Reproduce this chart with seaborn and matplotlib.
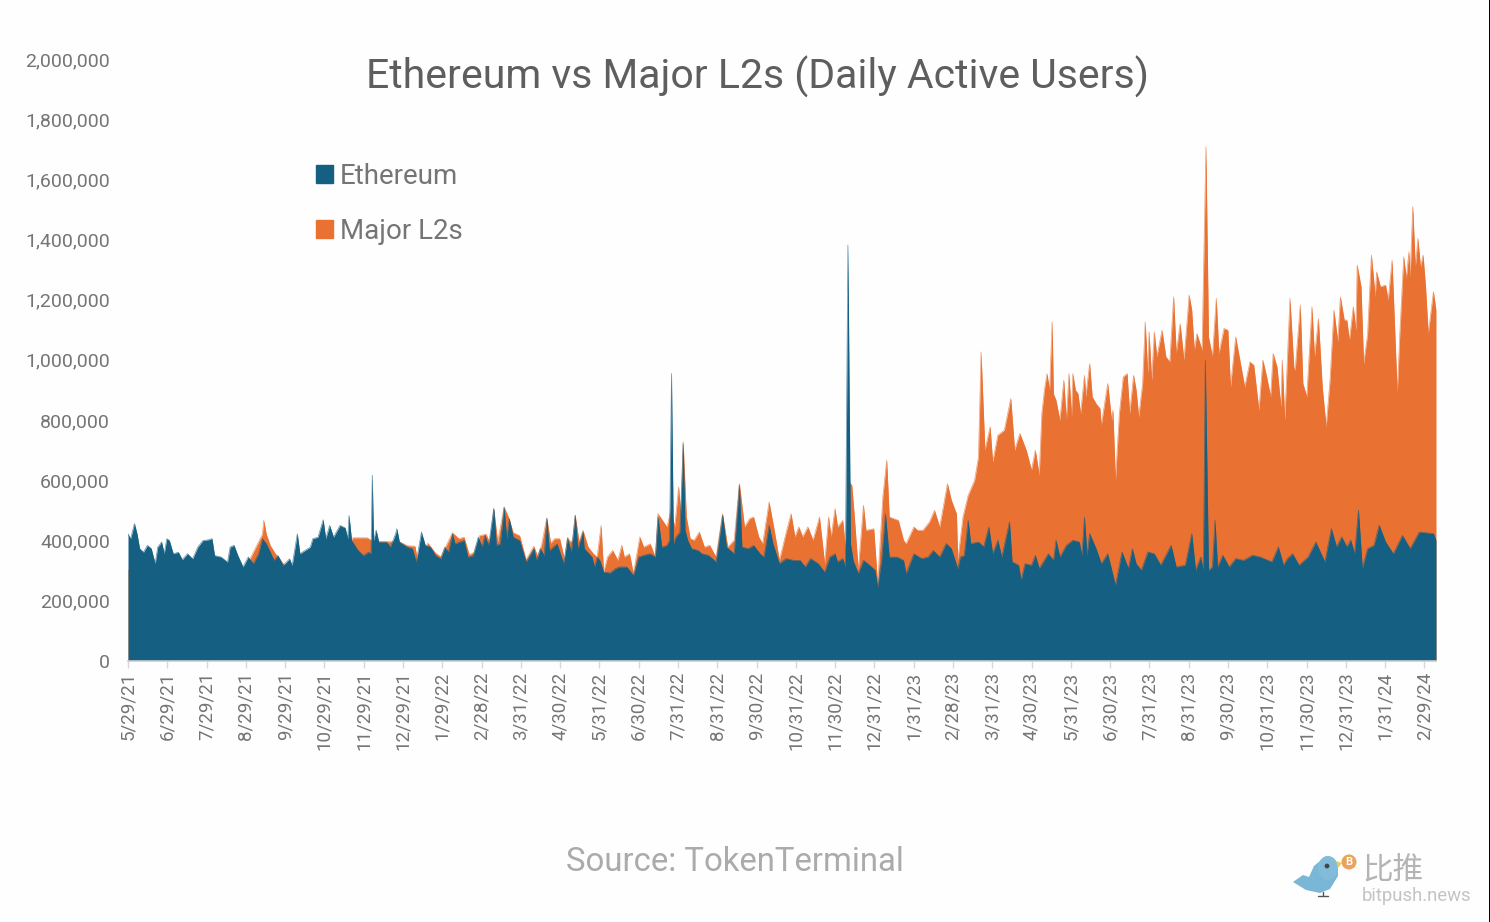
import numpy as np
import matplotlib
matplotlib.use("Agg")
import matplotlib.pyplot as plt
import seaborn as sns
from matplotlib.patches import Patch, Ellipse, Polygon, Circle

# Values: position along the date axis, users in thousands
ETH_DAYS = [0, 2, 5, 7, 9, 12, 15, 18, 21, 23, 26, 28, 30, 32, 35, 39, 42, 46, 50, 54, 58, 62, 65, 67, 72, 77, 79, 82, 85, 89,
            93, 97, 101, 104, 107, 113, 116, 120, 125, 127, 131, 133, 137, 141, 143, 147, 151, 153, 156, 159, 164, 168, 170, 171,
            173, 178, 182, 186, 188, 189, 190, 192, 194, 200, 203, 207, 208, 210, 216, 220, 223, 227, 230, 234, 238, 242, 245,
            248, 251, 253, 260, 263, 267, 271, 274, 276, 279, 283, 285, 288, 291, 293, 295, 298, 303, 308, 314, 316, 319, 322,
            324, 326, 332, 337, 340, 343, 346, 348, 352, 353, 359, 361, 363, 365, 368, 373, 377, 380, 386, 391, 395, 399, 404,
            408, 410, 413, 417, 419, 420.5, 422, 424, 427, 429.5, 431, 433, 436, 441, 444, 449, 455, 460, 463, 469, 473, 475,
            480, 484, 489, 492, 496, 499, 504, 509, 515, 520, 524, 528, 534, 539, 543, 547, 549, 553, 555, 557, 559, 561, 565,
            569, 574, 578, 580, 583, 586, 589, 595, 600, 602, 608, 614, 619, 623, 628, 633, 637, 642, 644, 647, 650, 652, 658,
            662, 666, 669, 673, 676, 682, 684, 689, 691, 694, 699, 702, 705, 712, 716, 718, 721, 726, 731, 736, 738, 740, 742,
            744, 749, 753, 758, 764, 769, 774, 777, 780, 784, 789, 794, 799, 807, 811, 818, 823, 826, 830, 832, 833.5, 836, 839,
            841, 843, 847, 852, 857, 863, 870, 876, 885, 890, 894, 897, 901, 906, 913, 919, 926, 931, 935, 939, 943, 946, 949,
            952, 955, 959, 964, 968, 973, 979, 986, 992, 999, 1010, 1012]
ETH_USERS = [421, 405, 455, 421, 372, 360, 383, 372, 322, 377, 394, 355, 405, 399, 355, 360, 335, 355, 338, 377, 399, 401, 405, 349, 344, 327, 377, 383, 349, 311,
             344, 322, 355, 405, 388, 333, 349, 316, 338, 316, 421, 355, 366, 377, 405, 410, 468, 405, 449, 410, 449, 441, 405, 482,
             399, 366, 349, 360, 355, 616, 399, 433, 394, 394, 377, 421, 438, 394, 377, 372, 327, 427, 383, 377, 349, 338, 377,
             360, 421, 388, 399, 344, 349, 410, 377, 416, 383, 505, 383, 388, 510, 405, 471, 410, 399, 327, 372, 333, 372, 349,
             471, 366, 388, 322, 405, 361, 483, 372, 427, 372, 344, 311, 344, 333, 294, 291, 305, 311, 311, 283, 344, 350, 355,
             344, 477, 377, 383, 400, 954, 388, 411, 427, 721, 433, 400, 372, 366, 355, 350, 328, 483, 377, 355, 583, 377,
             372, 383, 355, 344, 449, 388, 322, 339, 333, 333, 311, 339, 322, 294, 344, 355, 328, 339, 311, 1381, 388, 333, 289,
             333, 316, 300, 244, 333, 488, 344, 344, 333, 289, 355, 339, 344, 366, 344, 389, 372, 305, 344, 350, 466, 389, 394,
             378, 444, 355, 400, 344, 461, 328, 317, 267, 322, 317, 350, 306, 355, 333, 400, 344, 383, 400, 394, 350, 477, 350,
             422, 372, 322, 355, 250, 361, 306, 372, 322, 300, 361, 355, 317, 383, 311, 317, 422, 300, 344, 300, 999, 300, 311,
             466, 311, 350, 311, 339, 333, 350, 344, 328, 378, 317, 339, 355, 317, 344, 394, 328, 439, 378, 411, 378, 400, 355,
             500, 306, 372, 383, 450, 394, 355, 416, 372, 427, 422, 400]

L2_DAYS = [0, 30, 60, 90, 104, 105, 107, 110, 114, 117, 120, 125, 127, 140, 150, 170, 174, 180, 185, 190, 200, 210, 216, 222, 224, 232,
           238, 242, 246, 251, 256, 260, 264, 268, 272, 277, 280, 283, 286, 291, 295, 298, 303, 308, 314, 317, 320, 324, 327, 330,
           334, 338, 340, 342, 344, 346, 349, 352, 356, 360, 363, 366, 368, 371, 375, 379, 382, 384, 388, 391, 396, 399, 404, 408,
           410, 417, 420, 423, 426, 428, 429.5, 432, 435, 438, 442, 446, 450, 455, 460, 464, 469, 473, 477, 481, 484, 488, 491, 496,
           500, 504, 509, 513, 516, 519, 522, 526, 530, 535, 539, 542, 544, 547, 549, 553, 556, 557, 560, 562, 565, 569, 571, 577,
           580, 584, 587, 589, 596, 600, 602, 608, 611, 615, 620, 624, 628, 634, 637, 641, 642, 646, 650, 655, 658, 660, 663, 667,
           669, 673, 678, 683, 686, 690, 695, 699, 702, 705,
           707, 709, 711, 713, 715, 716, 718, 721, 724, 726, 728, 730, 731, 733, 735, 737, 740, 741, 744, 746, 749, 752, 753, 758,
           761, 762, 764, 767, 770, 773, 775, 778, 780, 782, 785, 787, 789, 790, 792, 794, 796, 800, 803, 806, 809, 811, 814, 817,
           821, 823, 825, 827, 831, 834, 836, 839, 842, 844, 848, 851, 853, 857, 860, 864, 868, 871, 875, 878, 881, 884, 886, 889,
           892, 893, 895, 899, 902, 903, 907, 909, 912, 916, 918, 921, 924, 927, 930, 933, 936, 938, 941, 943, 945, 948, 950, 951,
           954, 956, 959, 962, 965, 966, 969, 973, 975, 978, 982, 984, 987, 989, 991, 992, 994, 996, 998, 1000, 1002, 1004, 1006,
           1010, 1012]
L2_USERS = [300, 300, 300, 300, 420, 466, 420, 383, 355, 340, 322, 300, 300, 330, 350, 380, 408, 408, 408, 395, 395, 395, 382, 380, 333, 390,
            357, 345, 380, 425, 405, 410, 352, 360, 415, 420, 390, 505, 395, 510, 470, 425, 415, 335, 380, 345, 385, 475, 390, 405,
            405, 330, 410, 395, 400, 483, 394, 433, 377, 355, 344, 449, 294, 344, 366, 333, 383, 344, 355, 289, 411, 377, 388, 344,
            488, 444, 500, 444, 577, 472, 727, 477, 405, 400, 427, 377, 383, 344, 488, 377, 400, 588, 444, 472, 477, 411, 388, 527,
            433, 333, 422, 488, 411, 444, 411, 444, 400, 477, 322, 477, 411, 505, 444, 466, 333, 599, 583, 477, 300, 516, 433, 438,
            255, 544, 666, 477, 466, 400, 388, 444, 433, 433, 460, 499, 444, 588, 533, 488, 333, 477, 549, 599, 677, 1026, 699, 777,
            660, 749, 766, 871, 699, 755, 699, 633, 699, 616,
            821, 899, 954, 899, 1126, 887, 865, 799, 932, 799, 954, 810, 954, 899, 887, 821, 948, 877, 987, 877, 854, 838, 782, 921,
            799, 832, 600, 821, 943, 954, 821, 948, 899, 810, 921, 1126, 954, 1093, 932, 1093, 1010, 1098, 1010, 993, 1209, 1021, 1120, 998,
            1215, 1165, 1032, 1087, 1032, 1708, 1076, 1010, 1204, 1021, 1104, 1098, 910, 1076, 1004, 910, 993, 982, 832, 999, 943, 877, 1021, 976,
            843, 999, 799, 1204, 976, 965, 1182, 921, 877, 1176, 1010, 1137, 910, 777, 932, 1165, 1060, 1209, 1132, 1132, 1065, 1176, 1098, 1315,
            1243, 987, 1082, 1348, 1209, 1292, 1243, 1248, 1198, 1331, 888, 1087, 1342, 1270, 1359, 1276, 1509, 1309, 1403, 1309, 1348, 1237, 1087,
            1226, 1165]

TICK_LABELS = ["5/29/21", "6/29/21", "7/29/21", "8/29/21", "9/29/21", "10/29/21", "11/29/21", "12/29/21", "1/29/22", "2/28/22",
               "3/31/22", "4/30/22", "5/31/22", "6/30/22", "7/31/22", "8/31/22", "9/30/22", "10/31/22", "11/30/22", "12/31/22",
               "1/31/23", "2/28/23", "3/31/23", "4/30/23", "5/31/23", "6/30/23", "7/31/23", "8/31/23", "9/30/23", "10/31/23",
               "11/30/23", "12/31/23", "1/31/24", "2/29/24"]
LAST_TICK_DAY = 1003
Y_TICKS = [0, 200, 400, 600, 800, 1000, 1200, 1400, 1600, 1800, 2000]

ETH_COLOR = "#156082"
L2_COLOR = "#E97132"
TEXT_COLOR = "#757575"

sns.set_theme(style="white")
plt.rcParams["font.family"] = ["Roboto", "DejaVu Sans"]

W, H = 1490, 922
fig = plt.figure(figsize=(W / 100, H / 100), dpi=100, facecolor="#FEFEFE")
ax = fig.add_axes([128 / W, 1 - 660.5 / H, (1436 - 128) / W, (660.5 - 59) / H])
ax.set_facecolor("none")

# L2s sit behind Ethereum, they are not stacked
ax.fill_between(L2_DAYS, L2_USERS, color=L2_COLOR, linewidth=0, zorder=1)
sns.lineplot(x=L2_DAYS, y=L2_USERS, color=L2_COLOR, linewidth=0.5, alpha=0.7, ax=ax, estimator=None, zorder=1.1)
ax.fill_between(ETH_DAYS, ETH_USERS, color=ETH_COLOR, linewidth=0, zorder=1.2)
sns.lineplot(x=ETH_DAYS, y=ETH_USERS, color=ETH_COLOR, linewidth=0.5, alpha=0.7, ax=ax, estimator=None, zorder=1.3)

ax.set_xlim(0, 1012)
ax.set_ylim(0, 2000)
ax.set_xlabel("")
ax.set_ylabel("")
ax.set_yticks(Y_TICKS)
ax.set_yticklabels([f"{v * 1000:,}" for v in Y_TICKS], fontsize=14, color=TEXT_COLOR, va="center_baseline")
ax.set_xticks(np.linspace(0, LAST_TICK_DAY, len(TICK_LABELS)))
ax.set_xticklabels(TICK_LABELS, rotation=90, fontsize=13.5, color=TEXT_COLOR)
ax.tick_params(axis="y", length=0, pad=13)
ax.tick_params(axis="x", length=5, width=1, color="#D8D8D8", pad=3, bottom=True)
sns.despine(ax=ax, left=True, top=True, right=True)
ax.spines["bottom"].set_color("#C9CDD2")
ax.spines["bottom"].set_linewidth(1.2)

fig.text(758 / W, 1 - 77 / H, "Ethereum vs Major L2s (Daily Active Users)", ha="center", va="center",
         fontsize=29.5, color="#5E5E5E")
fig.text(735 / W, 1 - 861.5 / H, "Source: TokenTerminal", ha="center", va="center", fontsize=23.7, color="#ABABAB")

handles = [Patch(color=ETH_COLOR, label="Ethereum"), Patch(color=L2_COLOR, label="Major L2s")]
fig.legend(handles=handles, loc="upper left", bbox_to_anchor=(316 / W, 1 - 163 / H), frameon=False,
           prop={"family": "Roboto", "size": 20}, labelcolor=TEXT_COLOR, handlelength=0.62, handleheight=0.62,
           handletextpad=0.25, labelspacing=1.0, borderpad=0, borderaxespad=0)

# Watermark in the lower right corner, plus the dark sliver on the right edge
logo = fig.add_axes([0, 0, 1, 1], facecolor="none")
logo.set_xlim(0, W)
logo.set_ylim(H, 0)
logo.axis("off")
logo.axvspan(1489, W, color="black", linewidth=0)
logo.add_patch(Polygon([[1293, 882], [1303, 875], [1309, 877], [1314, 866], [1326, 856], [1338, 864], [1338, 876],
                        [1330, 889], [1320, 893], [1306, 890]], closed=True, color="#7AB6D6", linewidth=0))
logo.add_patch(Ellipse((1328, 868), 20, 24, color="#82BCDA", linewidth=0))
logo.add_patch(Polygon([[1336, 861], [1342, 863], [1338, 868]], closed=True, color="#EBCB5C", linewidth=0))
logo.add_patch(Circle((1327, 866), 2.4, color="#444444", linewidth=0))
logo.add_patch(Circle((1349, 862), 7.5, color="#E9A35A", linewidth=0))
logo.text(1349, 862, "B", ha="center", va="center", fontsize=8, color="white", fontweight="bold")
logo.plot([1323, 1323], [892, 896], color="#555555", linewidth=1)
logo.plot([1318, 1328], [896, 896], color="#555555", linewidth=1)
logo.text(1362, 871, "比推", ha="left", va="center", fontsize=22, color="#B4B4B4",
          family=["Noto Sans CJK SC", "DejaVu Sans"])
logo.text(1362, 896, "bitpush.news", ha="left", va="center", fontsize=13.3, color="#C4C4C4")

fig.savefig("out.png", dpi=100, facecolor=fig.get_facecolor())
